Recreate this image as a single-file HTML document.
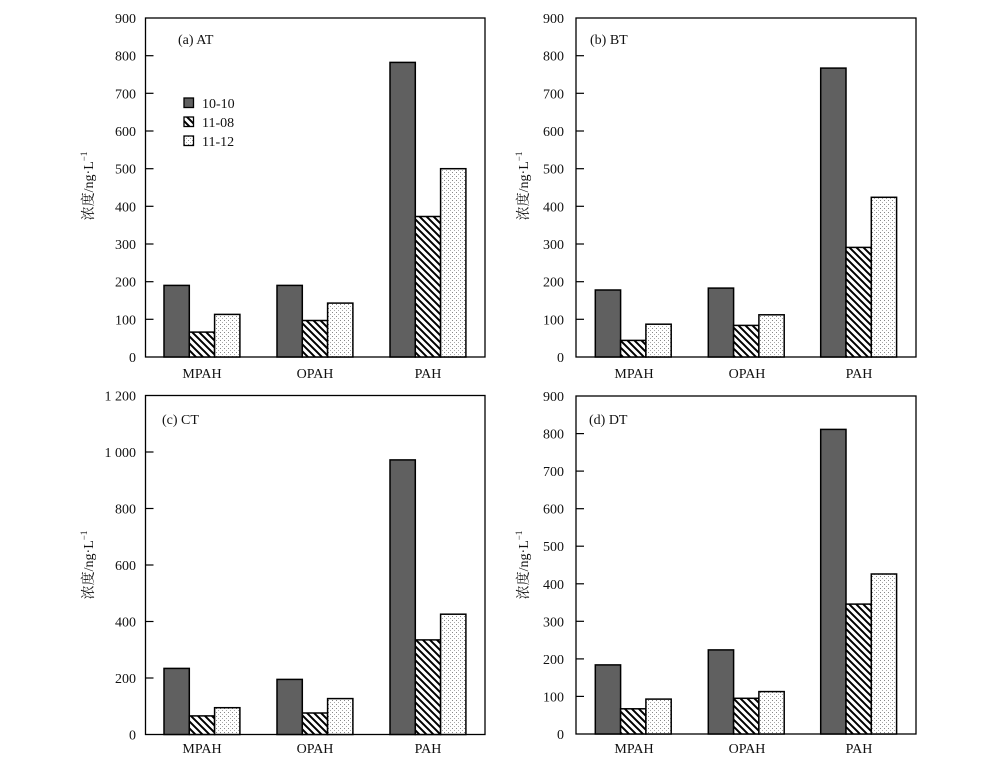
<!DOCTYPE html>
<html><head><meta charset="utf-8"><style>
html,body{margin:0;padding:0;background:#fff;}
svg{display:block;}
text{font-family:"Liberation Serif","Noto Serif CJK SC",serif;fill:#111;}
</style></head><body>
<svg width="993" height="768" viewBox="0 0 993 768" xmlns="http://www.w3.org/2000/svg">
<defs>
<pattern id="hatch" patternUnits="userSpaceOnUse" width="7" height="7">
<rect width="7" height="7" fill="#fff"/>
<path d="M-1,-1 L8,8 M-1,6 L1,8 M6,-1 L8,1" stroke="#000" stroke-width="2"/>
</pattern>
<pattern id="dots" patternUnits="userSpaceOnUse" width="4" height="4">
<rect width="4" height="4" fill="#fff"/>
<rect x="0" y="0" width="1" height="1" fill="#888"/>
<rect x="2" y="2" width="1" height="1" fill="#aaa"/>
</pattern>
</defs>

<!-- ===== Panel A ===== -->
<g>
<rect x="145.5" y="18" width="339.5" height="339" fill="none" stroke="#000" stroke-width="1.3"/>
<g stroke="#000" stroke-width="1.2">
<line x1="145.5" y1="319.3" x2="153.5" y2="319.3"/><line x1="145.5" y1="281.7" x2="153.5" y2="281.7"/>
<line x1="145.5" y1="244" x2="153.5" y2="244"/><line x1="145.5" y1="206.3" x2="153.5" y2="206.3"/>
<line x1="145.5" y1="168.7" x2="153.5" y2="168.7"/><line x1="145.5" y1="131" x2="153.5" y2="131"/>
<line x1="145.5" y1="93.3" x2="153.5" y2="93.3"/><line x1="145.5" y1="55.7" x2="153.5" y2="55.7"/>
</g>
<g font-size="14" text-anchor="end">
<text x="136" y="362">0</text><text x="136" y="324.3">100</text><text x="136" y="286.7">200</text>
<text x="136" y="249">300</text><text x="136" y="211.3">400</text><text x="136" y="173.7">500</text>
<text x="136" y="136">600</text><text x="136" y="98.3">700</text><text x="136" y="60.7">800</text><text x="136" y="23">900</text>
</g>
<g stroke="#000" stroke-width="1.5">
<rect x="164" y="285.4" width="25.3" height="71.6" fill="#606060"/>
<rect x="189.3" y="332.1" width="25.3" height="24.9" fill="url(#hatch)"/>
<rect x="214.6" y="314.4" width="25.3" height="42.6" fill="url(#dots)"/>
<rect x="277" y="285.4" width="25.3" height="71.6" fill="#606060"/>
<rect x="302.3" y="320.5" width="25.3" height="36.5" fill="url(#hatch)"/>
<rect x="327.6" y="303.1" width="25.3" height="53.9" fill="url(#dots)"/>
<rect x="390" y="62.4" width="25.3" height="294.6" fill="#606060"/>
<rect x="415.3" y="216.5" width="25.3" height="140.5" fill="url(#hatch)"/>
<rect x="440.6" y="168.7" width="25.3" height="188.3" fill="url(#dots)"/>
</g>
<text x="178" y="44" font-size="14">(a) AT</text>
<g stroke="#000" stroke-width="1.3">
<rect x="184" y="98" width="9.5" height="9.5" fill="#606060"/>
<rect x="184" y="117" width="9.5" height="9.5" fill="url(#hatch)"/>
<rect x="184" y="136" width="9.5" height="9.5" fill="url(#dots)"/>
</g>
<g font-size="14"><text x="202" y="108">10-10</text><text x="202" y="127">11-08</text><text x="202" y="146">11-12</text></g>
<g font-size="14" text-anchor="middle"><text x="202" y="378">MPAH</text><text x="315" y="378">OPAH</text><text x="428" y="378">PAH</text></g>
<text transform="rotate(-90 93 186)" x="93" y="186" font-size="14" text-anchor="middle">浓度/ng·L<tspan font-size="9" dy="-6">−1</tspan></text>
</g>

<!-- ===== Panel B ===== -->
<g>
<rect x="576" y="18" width="340" height="339" fill="none" stroke="#000" stroke-width="1.3"/>
<g stroke="#000" stroke-width="1.2">
<line x1="576" y1="319.3" x2="584" y2="319.3"/><line x1="576" y1="281.7" x2="584" y2="281.7"/>
<line x1="576" y1="244" x2="584" y2="244"/><line x1="576" y1="206.3" x2="584" y2="206.3"/>
<line x1="576" y1="168.7" x2="584" y2="168.7"/><line x1="576" y1="131" x2="584" y2="131"/>
<line x1="576" y1="93.3" x2="584" y2="93.3"/><line x1="576" y1="55.7" x2="584" y2="55.7"/>
</g>
<g font-size="14" text-anchor="end">
<text x="564" y="362">0</text><text x="564" y="324.3">100</text><text x="564" y="286.7">200</text>
<text x="564" y="249">300</text><text x="564" y="211.3">400</text><text x="564" y="173.7">500</text>
<text x="564" y="136">600</text><text x="564" y="98.3">700</text><text x="564" y="60.7">800</text><text x="564" y="23">900</text>
</g>
<g stroke="#000" stroke-width="1.5">
<rect x="595.3" y="290" width="25.3" height="67" fill="#606060"/>
<rect x="620.6" y="340.4" width="25.3" height="16.6" fill="url(#hatch)"/>
<rect x="645.9" y="324.2" width="25.3" height="32.8" fill="url(#dots)"/>
<rect x="708.3" y="288.1" width="25.3" height="68.9" fill="#606060"/>
<rect x="733.6" y="325.4" width="25.3" height="31.6" fill="url(#hatch)"/>
<rect x="758.9" y="314.8" width="25.3" height="42.2" fill="url(#dots)"/>
<rect x="820.7" y="68.1" width="25.3" height="288.9" fill="#606060"/>
<rect x="846" y="247.4" width="25.3" height="109.6" fill="url(#hatch)"/>
<rect x="871.3" y="197.3" width="25.3" height="159.7" fill="url(#dots)"/>
</g>
<text x="590" y="44" font-size="14">(b) BT</text>
<g font-size="14" text-anchor="middle"><text x="634" y="378">MPAH</text><text x="747" y="378">OPAH</text><text x="859" y="378">PAH</text></g>
<text transform="rotate(-90 528 186)" x="528" y="186" font-size="14" text-anchor="middle">浓度/ng·L<tspan font-size="9" dy="-6">−1</tspan></text>
</g>

<!-- ===== Panel C ===== -->
<g>
<rect x="145.5" y="395.5" width="339.5" height="339" fill="none" stroke="#000" stroke-width="1.3"/>
<g stroke="#000" stroke-width="1.2">
<line x1="145.5" y1="678" x2="153.5" y2="678"/><line x1="145.5" y1="621.5" x2="153.5" y2="621.5"/>
<line x1="145.5" y1="565" x2="153.5" y2="565"/><line x1="145.5" y1="508.5" x2="153.5" y2="508.5"/>
<line x1="145.5" y1="452" x2="153.5" y2="452"/>
</g>
<g font-size="14" text-anchor="end">
<text x="136" y="739.5">0</text><text x="136" y="683">200</text><text x="136" y="626.5">400</text>
<text x="136" y="570">600</text><text x="136" y="513.5">800</text><text x="136" y="457">1 000</text><text x="136" y="400.5">1 200</text>
</g>
<g stroke="#000" stroke-width="1.5">
<rect x="164" y="668.4" width="25.3" height="66.1" fill="#606060"/>
<rect x="189.3" y="715.9" width="25.3" height="18.6" fill="url(#hatch)"/>
<rect x="214.6" y="707.7" width="25.3" height="26.8" fill="url(#dots)"/>
<rect x="277" y="679.4" width="25.3" height="55.1" fill="#606060"/>
<rect x="302.3" y="713" width="25.3" height="21.5" fill="url(#hatch)"/>
<rect x="327.6" y="698.6" width="25.3" height="35.9" fill="url(#dots)"/>
<rect x="390" y="459.9" width="25.3" height="274.6" fill="#606060"/>
<rect x="415.3" y="639.9" width="25.3" height="94.6" fill="url(#hatch)"/>
<rect x="440.6" y="614.2" width="25.3" height="120.3" fill="url(#dots)"/>
</g>
<text x="162" y="424" font-size="14">(c) CT</text>
<g font-size="14" text-anchor="middle"><text x="202" y="753">MPAH</text><text x="315" y="753">OPAH</text><text x="428" y="753">PAH</text></g>
<text transform="rotate(-90 93 565)" x="93" y="565" font-size="14" text-anchor="middle">浓度/ng·L<tspan font-size="9" dy="-6">−1</tspan></text>
</g>

<!-- ===== Panel D ===== -->
<g>
<rect x="576" y="396" width="340" height="338" fill="none" stroke="#000" stroke-width="1.3"/>
<g stroke="#000" stroke-width="1.2">
<line x1="576" y1="696.4" x2="584" y2="696.4"/><line x1="576" y1="658.9" x2="584" y2="658.9"/>
<line x1="576" y1="621.3" x2="584" y2="621.3"/><line x1="576" y1="583.8" x2="584" y2="583.8"/>
<line x1="576" y1="546.2" x2="584" y2="546.2"/><line x1="576" y1="508.7" x2="584" y2="508.7"/>
<line x1="576" y1="471.1" x2="584" y2="471.1"/><line x1="576" y1="433.6" x2="584" y2="433.6"/>
</g>
<g font-size="14" text-anchor="end">
<text x="564" y="739">0</text><text x="564" y="701.4">100</text><text x="564" y="663.9">200</text>
<text x="564" y="626.3">300</text><text x="564" y="588.8">400</text><text x="564" y="551.2">500</text>
<text x="564" y="513.7">600</text><text x="564" y="476.1">700</text><text x="564" y="438.6">800</text><text x="564" y="401">900</text>
</g>
<g stroke="#000" stroke-width="1.5">
<rect x="595.3" y="664.9" width="25.3" height="69.1" fill="#606060"/>
<rect x="620.6" y="708.8" width="25.3" height="25.2" fill="url(#hatch)"/>
<rect x="645.9" y="699.1" width="25.3" height="34.9" fill="url(#dots)"/>
<rect x="708.3" y="649.9" width="25.3" height="84.1" fill="#606060"/>
<rect x="733.6" y="698.3" width="25.3" height="35.7" fill="url(#hatch)"/>
<rect x="758.9" y="691.6" width="25.3" height="42.4" fill="url(#dots)"/>
<rect x="820.7" y="429.4" width="25.3" height="304.6" fill="#606060"/>
<rect x="846" y="604.1" width="25.3" height="129.9" fill="url(#hatch)"/>
<rect x="871.3" y="574" width="25.3" height="160" fill="url(#dots)"/>
</g>
<text x="589" y="424" font-size="14">(d) DT</text>
<g font-size="14" text-anchor="middle"><text x="634" y="753">MPAH</text><text x="747" y="753">OPAH</text><text x="859" y="753">PAH</text></g>
<text transform="rotate(-90 528 565)" x="528" y="565" font-size="14" text-anchor="middle">浓度/ng·L<tspan font-size="9" dy="-6">−1</tspan></text>
</g>
</svg>
</body></html>
